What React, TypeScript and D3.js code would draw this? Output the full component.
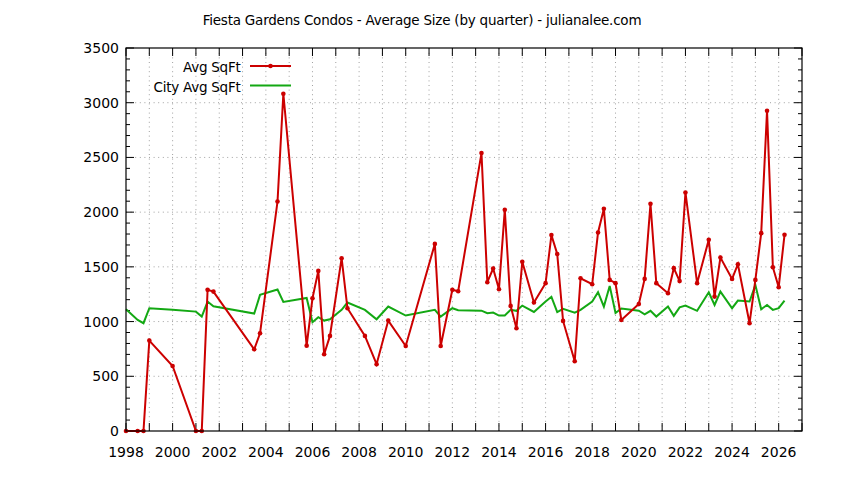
import * as d3 from "d3";

// quarter labels and values
const quarters = [
  "1998Q1", "1998Q3", "1998Q4", "1999Q1", "2000Q1", "2001Q1", "2001Q2", "2001Q3", "2001Q4",
  "2003Q3", "2003Q4", "2004Q3", "2004Q4", "2005Q4", "2006Q1", "2006Q2", "2006Q3", "2006Q4",
  "2007Q2", "2007Q3", "2008Q2", "2008Q4", "2009Q2", "2010Q1", "2011Q2", "2011Q3", "2012Q1",
  "2012Q2", "2013Q2", "2013Q3", "2013Q4", "2014Q1", "2014Q2", "2014Q3", "2014Q4", "2015Q1",
  "2015Q3", "2016Q1", "2016Q2", "2016Q3", "2016Q4", "2017Q2", "2017Q3", "2018Q1", "2018Q2",
  "2018Q3", "2018Q4", "2019Q1", "2019Q2", "2020Q1", "2020Q2", "2020Q3", "2020Q4", "2021Q2",
  "2021Q3", "2021Q4", "2022Q1", "2022Q3", "2023Q1", "2023Q2", "2023Q3", "2024Q1", "2024Q2",
  "2024Q4", "2025Q1", "2025Q2", "2025Q3", "2025Q4", "2026Q1", "2026Q2",
];

const avgSqFt = [
  0, 0, 0, 826, 594, 0, 0, 1290, 1274,
  747, 893, 2097, 3082, 780, 1213, 1463, 701, 869,
  1579, 1122, 869, 610, 1009, 777, 1710, 777, 1290,
  1277, 2540, 1360, 1485, 1296, 2021, 1143, 939, 1546,
  1174, 1351, 1790, 1617, 1006, 637, 1396, 1341, 1814,
  2030, 1381, 1351, 1015, 1161, 1390, 2076, 1351, 1259,
  1488, 1370, 2180, 1351, 1747, 1228, 1585, 1390, 1524,
  985, 1381, 1808, 2927, 1497, 1314, 1793,
];

const cityAvgSqFt = [
  1113, 1015, 985, 1122, 1107, 1091, 1046, 1183, 1140,
  1073, 1244, 1293, 1180, 1216, 994, 1040, 1009, 1021,
  1107, 1174, 1107, 1021, 1137, 1055, 1107, 1046, 1122,
  1104, 1100, 1076, 1082, 1055, 1055, 1107, 1098, 1146,
  1088, 1183, 1226, 1086, 1116, 1082, 1107, 1183, 1268,
  1137, 1326, 1079, 1119, 1099, 1067, 1098, 1046, 1137,
  1052, 1130, 1146, 1098, 1268, 1152, 1274, 1122, 1192,
  1183, 1335, 1113, 1152, 1107, 1122, 1192,
];

const yTicks = [0, 500, 1000, 1500, 2000, 2500, 3000, 3500];
const xLabelYears = d3.range(1998, 2027, 2);

const W = 844;
const H = 480;
const margin = { top: 48, right: 42, bottom: 49, left: 126 };
const RED = "#cc0000";
const GREEN = "#13a813";
const FONT = "DejaVu Sans, sans-serif";

const toYear = (q: string) => +q.slice(0, 4) + (+q.slice(5) - 1) / 4;

export default function App() {
  const x = d3.scaleLinear().domain([1998, 2027]).range([margin.left, W - margin.right]);
  const y = d3.scaleLinear().domain([0, 3500]).range([H - margin.bottom, margin.top]);
  const x0 = margin.left;
  const x1 = W - margin.right;
  const y0 = H - margin.bottom;
  const y1 = margin.top;

  const red = quarters.map((q, i) => ({ x: toYear(q), v: avgSqFt[i] }));
  const green = quarters.map((q, i) => ({ x: toYear(q), v: cityAvgSqFt[i] }));
  const line = d3
    .line<{ x: number; v: number }>()
    .x((d) => x(d.x))
    .y((d) => y(d.v));

  const yearTicks = d3.range(1998, 2028);
  const minorY = d3.range(0, 3501, 100).filter((v) => v % 500 !== 0);

  return (
    <svg
      width={W}
      height={H}
      style={{ position: "absolute", left: 0, top: 0, background: "#fff" }}
      fontFamily={FONT}
    >
      <rect width={W} height={H} fill="#fff" />
      <text x={422} y={25} textAnchor="middle" fontSize={13.5} letterSpacing={-0.22} fill="#000">
        Fiesta Gardens Condos - Average Size (by quarter) - julianalee.com
      </text>

      {/* grid */}
      <g stroke="#a0a0a0" strokeWidth={1} strokeDasharray="1,3.6">
        {yearTicks.slice(1, -1).map((t) => (
          <line key={"gx" + t} x1={x(t)} x2={x(t)} y1={y0} y2={y1} />
        ))}
        {yTicks.slice(1, -1).map((t) => (
          <line key={"gy" + t} x1={x0} x2={x1} y1={y(t)} y2={y(t)} />
        ))}
      </g>

      {/* ticks */}
      <g stroke="#000" strokeWidth={1}>
        {yTicks.map((t) => (
          <g key={"ty" + t}>
            <line x1={x0} x2={x0 + 8} y1={y(t)} y2={y(t)} />
            <line x1={x1} x2={x1 - 8} y1={y(t)} y2={y(t)} />
          </g>
        ))}
        {minorY.map((t) => (
          <g key={"my" + t}>
            <line x1={x0} x2={x0 + 4} y1={y(t)} y2={y(t)} />
            <line x1={x1} x2={x1 - 4} y1={y(t)} y2={y(t)} />
          </g>
        ))}
        {yearTicks.map((t) => (
          <g key={"tx" + t}>
            <line x1={x(t)} x2={x(t)} y1={y0} y2={y0 - 8} />
            <line x1={x(t)} x2={x(t)} y1={y1} y2={y1 + 8} />
          </g>
        ))}
      </g>

      {/* tick labels */}
      <g fontSize={14} fill="#000">
        {yTicks.map((t) => (
          <text key={"ly" + t} x={x0 - 7} y={y(t) + 5} textAnchor="end">
            {t}
          </text>
        ))}
        {xLabelYears.map((t) => (
          <text key={"lx" + t} x={x(t)} y={456.5} textAnchor="middle">
            {t}
          </text>
        ))}
      </g>

      {/* series */}
      <path d={line(green) ?? ""} fill="none" stroke={GREEN} strokeWidth={2} strokeLinejoin="miter" />
      <path d={line(red) ?? ""} fill="none" stroke={RED} strokeWidth={2} strokeLinejoin="miter" />
      <g fill={RED}>
        {red.map((d, i) => (
          <circle key={"p" + i} cx={x(d.x)} cy={y(d.v)} r={2.3} />
        ))}
      </g>

      {/* legend */}
      <g fontSize={13.5} letterSpacing={-0.25} fill="#000">
        <text x={240.5} y={71.5} textAnchor="end">Avg SqFt</text>
        <line x1={250} x2={291} y1={66} y2={66} stroke={RED} strokeWidth={2} />
        <circle cx={270.5} cy={66} r={2.3} fill={RED} />
        <text x={240.5} y={92} textAnchor="end">City Avg SqFt</text>
        <line x1={250} x2={291} y1={85.5} y2={85.5} stroke={GREEN} strokeWidth={2} />
      </g>

      {/* border */}
      <rect x={x0} y={y1} width={x1 - x0} height={y0 - y1} fill="none" stroke="#000" strokeWidth={1.2} />
    </svg>
  );
}
